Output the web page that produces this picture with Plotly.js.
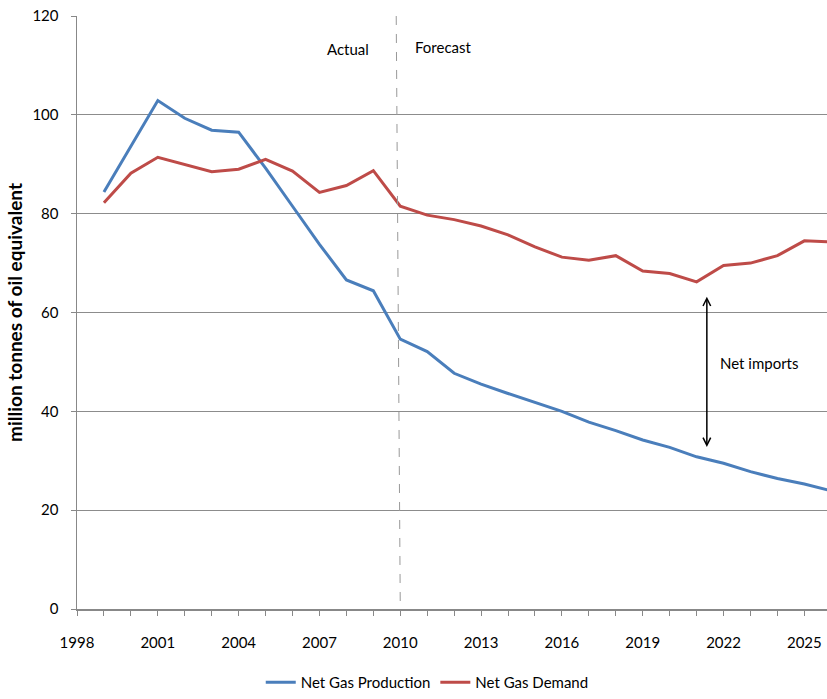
<!DOCTYPE html>
<html>
<head>
<meta charset="utf-8">
<script src="https://cdn.plot.ly/plotly-3.0.1.min.js"></script>
<style>body{margin:0;padding:0;background:#fff}#chart{width:827px;height:699px}</style>
</head>
<body>
<div id="chart"></div>
<script>
const years = [1999,2000,2001,2002,2003,2004,2005,2006,2007,2008,2009,2010,2011,2012,2013,2014,2015,2016,2017,2018,2019,2020,2021,2022,2023,2024,2025,2026];
const production = [84.4,93.6,102.9,99.3,96.9,96.5,89.2,81.5,73.8,66.6,64.4,54.6,52.1,47.7,45.5,43.6,41.8,40.0,37.8,36.1,34.2,32.7,30.8,29.5,27.8,26.4,25.3,23.9];
const demand = [82.2,88.2,91.4,89.9,88.5,89.0,91.0,88.6,84.3,85.7,88.7,81.5,79.7,78.8,77.5,75.7,73.3,71.2,70.6,71.5,68.4,67.9,66.2,69.5,70.0,71.5,74.5,74.3];
const tickYears = [1998,1999,2000,2001,2002,2003,2004,2005,2006,2007,2008,2009,2010,2011,2012,2013,2014,2015,2016,2017,2018,2019,2020,2021,2022,2023,2024,2025];
const tickLabels = ['1998','','','2001','','','2004','','','2007','','','2010','','','2013','','','2016','','','2019','','','2022','','','2025'];

const font = 'Lato, "Open Sans", sans-serif';
const traces = [
  {x: years, y: production, type: 'scatter', mode: 'lines', name: 'Net Gas Production',
   line: {color: '#4a7ebb', width: 3}},
  {x: years, y: demand, type: 'scatter', mode: 'lines', name: 'Net Gas Demand',
   line: {color: '#be4b48', width: 3}}
];
const layout = {
  width: 827, height: 699,
  margin: {l: 77, r: 0, t: 16, b: 90},
  paper_bgcolor: '#fff', plot_bgcolor: '#fff',
  font: {family: font, size: 15, color: '#000'},
  showlegend: true,
  legend: {orientation: 'h', x: 0.245, xanchor: 'left', y: -0.124, yanchor: 'middle',
           font: {family: font, size: 15}, itemwidth: 30, tracegroupgap: 0},
  xaxis: {range: [1998, 2025.84], tickmode: 'array', tickvals: tickYears, ticktext: tickLabels,
          ticks: 'outside', ticklen: 5, tickcolor: '#888', showgrid: false, zeroline: false,
          showline: true, linecolor: '#888', linewidth: 1.5, ticklabelstandoff: 14,
          tickfont: {family: font, size: 15}},
  yaxis: {range: [0, 120], dtick: 20, tick0: 0, ticks: 'outside', ticklen: 5, tickcolor: '#888',
          showgrid: true, gridcolor: '#8c8c8c', gridwidth: 1, zeroline: false,
          showline: true, linecolor: '#888', linewidth: 1.5, ticklabelstandoff: 9,
          tickfont: {family: font, size: 15},
          title: {text: '<b>million tonnes of oil equivalent</b>', font: {family: font, size: 19}, standoff: 4}},
  shapes: [
    {type: 'line', xref: 'x', yref: 'y', x0: 2009.85, x1: 2010.0, y0: 120, y1: 0,
     line: {color: '#999', width: 1, dash: 'dash'}}
  ],
  annotations: [
    {x: 2008.05, y: 113.3, xref: 'x', yref: 'y', text: 'Actual', showarrow: false, font: {family: font, size: 15}},
    {x: 2011.6, y: 113.7, xref: 'x', yref: 'y', text: 'Forecast', showarrow: false, font: {family: font, size: 15}},
    {x: 2021.38, y: 63.2, ax: 2021.38, ay: 32.5, xref: 'x', yref: 'y', axref: 'x', ayref: 'y',
     text: '', showarrow: true, arrowhead: 5, startarrowhead: 5, arrowside: 'end+start',
     arrowsize: 1, startarrowsize: 1, arrowwidth: 1.5, arrowcolor: '#000', standoff: 0, startstandoff: 0},
    {x: 2021.8, y: 49.8, xref: 'x', yref: 'y', xanchor: 'left', text: 'Net imports', showarrow: false,
     font: {family: font, size: 15}}
  ]
};
Plotly.newPlot('chart', traces, layout, {displayModeBar: false, staticPlot: true});
</script>
</body>
</html>
